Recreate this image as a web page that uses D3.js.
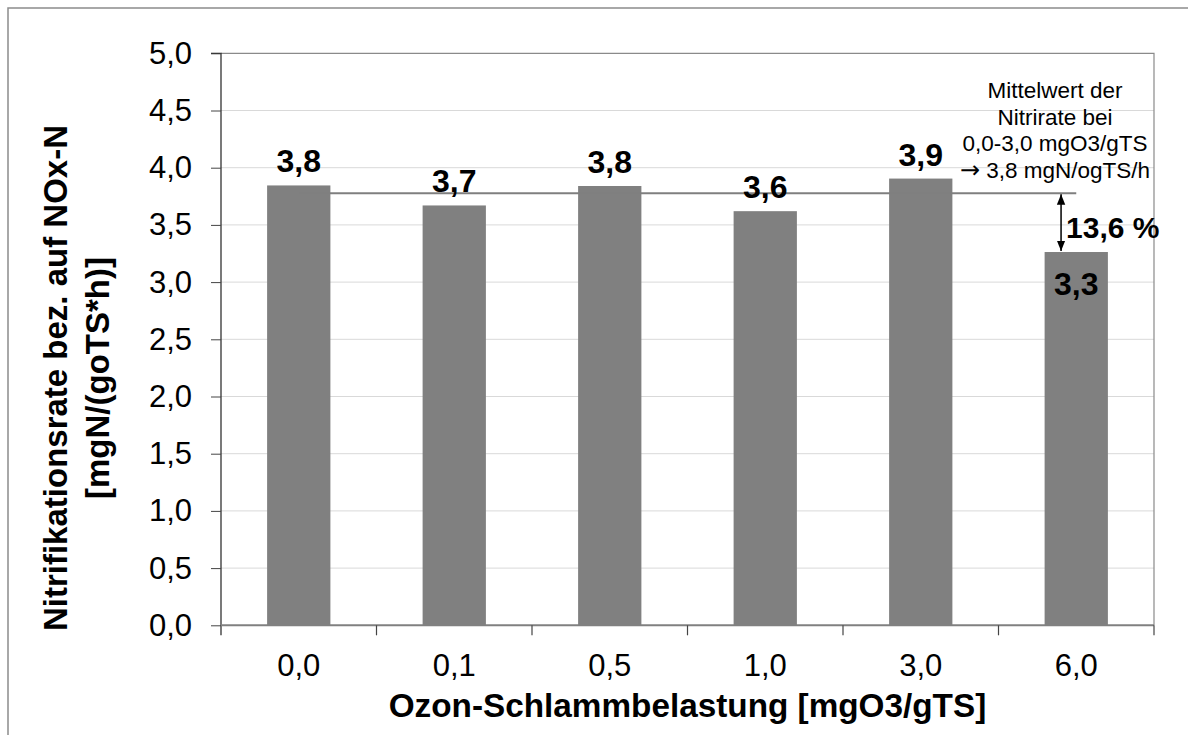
<!DOCTYPE html>
<html>
<head>
<meta charset="utf-8">
<script src="https://cdn.jsdelivr.net/npm/d3@7/dist/d3.min.js"></script>
<style>
  html, body { margin: 0; padding: 0; background: #fff; }
  svg { display: block; font-family: "Liberation Sans", Arial, sans-serif; }
</style>
</head>
<body>
<svg id="chart" width="1188" height="735"></svg>
<script>
// Ozone sludge loading (x categories) and nitrification rate per bar
const categories = ["0,0", "0,1", "0,5", "1,0", "3,0", "6,0"];
const rates = [3.845, 3.67, 3.84, 3.62, 3.905, 3.263];
const yTicks = [0, 0.5, 1, 1.5, 2, 2.5, 3, 3.5, 4, 4.5, 5];
const yTitleLines = ["Nitrifikationsrate bez. auf NOx-N", "[mgN/(goTS*h)]"];
const xTitle = "Ozon-Schlammbelastung [mgO3/gTS]";
// reference group for the mean: 0,0 – 3,0 mgO3/gTS
const meanGroup = ["0,0", "0,1", "0,5", "1,0", "3,0"];
const compareCategory = "6,0";

const fmt1 = v => d3.format(".1f")(v).replace(".", ",");

const svg = d3.select("#chart");
const plot = { left: 221, right: 1154, top: 53.3, bottom: 625.3 };

const y = d3.scaleLinear().domain([0, 5]).range([plot.bottom, plot.top]);
const xCat = d3.scaleBand().domain(categories).range([plot.left, plot.right]).padding(0);
const xBar = d3.scaleBand().domain(categories).range([plot.left, plot.right])
  .paddingInner(0.593).paddingOuter(0.2965);

// outer frame
svg.append("rect").attr("x", 8).attr("y", 8).attr("width", 1200).attr("height", 760)
  .attr("fill", "none").attr("stroke", "#8c8c8c").attr("stroke-width", 1.5);

// horizontal gridlines
svg.append("g").selectAll("line").data(yTicks.filter(t => t > 0 && t < 5)).join("line")
  .attr("x1", plot.left).attr("x2", plot.right)
  .attr("y1", d => y(d)).attr("y2", d => y(d))
  .attr("stroke", "#d9d9d9").attr("stroke-width", 1);

// plot area top and right border
svg.append("path")
  .attr("d", `M${plot.left},${y(5)}H${plot.right}V${plot.bottom}`)
  .attr("fill", "none").attr("stroke", "#8a8a8a").attr("stroke-width", 1.2);

// bars
const data = categories.map((c, i) => ({ c, v: rates[i] }));
svg.append("g").selectAll("rect").data(data).join("rect")
  .attr("x", d => xBar(d.c)).attr("width", xBar.bandwidth())
  .attr("y", d => y(d.v)).attr("height", d => y(0) - y(d.v))
  .attr("fill", "#808080");

// mean of the reference group
const meanVal = d3.mean(data.filter(d => meanGroup.includes(d.c)), d => d.v);
const cmpVal = data.find(d => d.c === compareCategory).v;
const dropPct = (meanVal - cmpVal) / meanVal * 100;

svg.append("line")
  .attr("x1", xCat(categories[0]) + xCat.bandwidth() / 2)
  .attr("x2", xCat(compareCategory) + xCat.bandwidth() / 2)
  .attr("y1", y(meanVal)).attr("y2", y(meanVal))
  .attr("stroke", "#7f7f7f").attr("stroke-width", 2);

// y axis
const yAxis = d3.axisLeft(y).tickValues(yTicks).tickSize(10).tickPadding(19).tickFormat(fmt1);
const gy = svg.append("g").attr("transform", `translate(${plot.left},0)`).call(yAxis);
gy.select(".domain").attr("stroke", "#222").attr("stroke-width", 1.2)
  .attr("d", `M-10,${y(5)}H0V${plot.bottom + 10}`);
gy.selectAll(".tick line").attr("stroke", "#444");
gy.selectAll(".tick text").attr("font-size", 31).attr("fill", "#000")
  .attr("font-family", "Liberation Sans, Arial, sans-serif");

// x axis: line at zero, ticks at category boundaries
svg.append("line").attr("x1", plot.left).attr("x2", plot.right)
  .attr("y1", plot.bottom).attr("y2", plot.bottom)
  .attr("stroke", "#808080").attr("stroke-width", 2);
const bounds = categories.map(c => xCat(c)).concat([plot.right]);
svg.append("g").selectAll("line").data(bounds.slice(1)).join("line")
  .attr("x1", d => d).attr("x2", d => d)
  .attr("y1", plot.bottom).attr("y2", plot.bottom + 10)
  .attr("stroke", "#444").attr("stroke-width", 1.2);
svg.append("g").selectAll("text").data(categories).join("text")
  .attr("x", d => xCat(d) + xCat.bandwidth() / 2).attr("y", 676)
  .attr("text-anchor", "middle").attr("font-size", 31).attr("fill", "#000")
  .text(d => d);

// value labels
svg.append("g").selectAll("text").data(data).join("text")
  .attr("x", d => xBar(d.c) + xBar.bandwidth() / 2)
  .attr("y", d => d.c === compareCategory ? y(d.v) + 43 : y(d.v) - 13)
  .attr("text-anchor", "middle").attr("font-size", 32).attr("font-weight", "bold")
  .attr("fill", "#000").text(d => fmt1(d.v));

// double arrow between mean line and the 6,0 bar
const ax = xBar(compareCategory) + xBar.bandwidth() * 0.26;
const defs = svg.append("defs");
defs.append("marker").attr("id", "ah").attr("viewBox", "0 0 10 10")
  .attr("refX", 10).attr("refY", 5).attr("markerWidth", 7).attr("markerHeight", 7)
  .attr("orient", "auto-start-reverse")
  .append("path").attr("d", "M0,1L10,5L0,9Z").attr("fill", "#000");
svg.append("line").attr("x1", ax).attr("x2", ax)
  .attr("y1", y(meanVal) + 1).attr("y2", y(cmpVal) - 1)
  .attr("stroke", "#000").attr("stroke-width", 1.5)
  .attr("marker-start", "url(#ah)").attr("marker-end", "url(#ah)");
svg.append("text").attr("x", ax + 5).attr("y", 238)
  .attr("font-size", 30).attr("font-weight", "bold").attr("fill", "#000")
  .text(fmt1(dropPct) + " %");

// annotation describing the mean
const noteLines = ["Mittelwert der", "Nitrirate bei", "0,0-3,0 mgO3/gTS",
  " " + fmt1(meanVal) + " mgN/ogTS/h"];
const note = svg.append("g").selectAll("text").data(noteLines).join("text")
  .attr("x", 1055).attr("y", (d, i) => 98 + i * 26.5)
  .attr("text-anchor", "middle").attr("font-size", 22.5).attr("fill", "#000");
note.each(function (d, i) {
  const t = d3.select(this);
  if (i === noteLines.length - 1) {
    t.append("tspan").attr("font-family", "DejaVu Sans").attr("font-size", 24).text("\u2192");
  }
  t.append("tspan").text(d);
});

// axis titles
svg.append("text").attr("x", (plot.left + plot.right) / 2).attr("y", 717)
  .attr("text-anchor", "middle").attr("font-size", 33.3).attr("font-weight", "bold")
  .attr("fill", "#000").text(xTitle);
const yt = svg.append("text").attr("transform", "translate(55,378) rotate(-90)")
  .attr("text-anchor", "middle").attr("font-size", 33).attr("font-weight", "bold").attr("fill", "#000");
yTitleLines.forEach((t, i) => {
  yt.append("tspan").attr("x", 0).attr("y", 12 + i * 42).text(t);
});
</script>
</body>
</html>
